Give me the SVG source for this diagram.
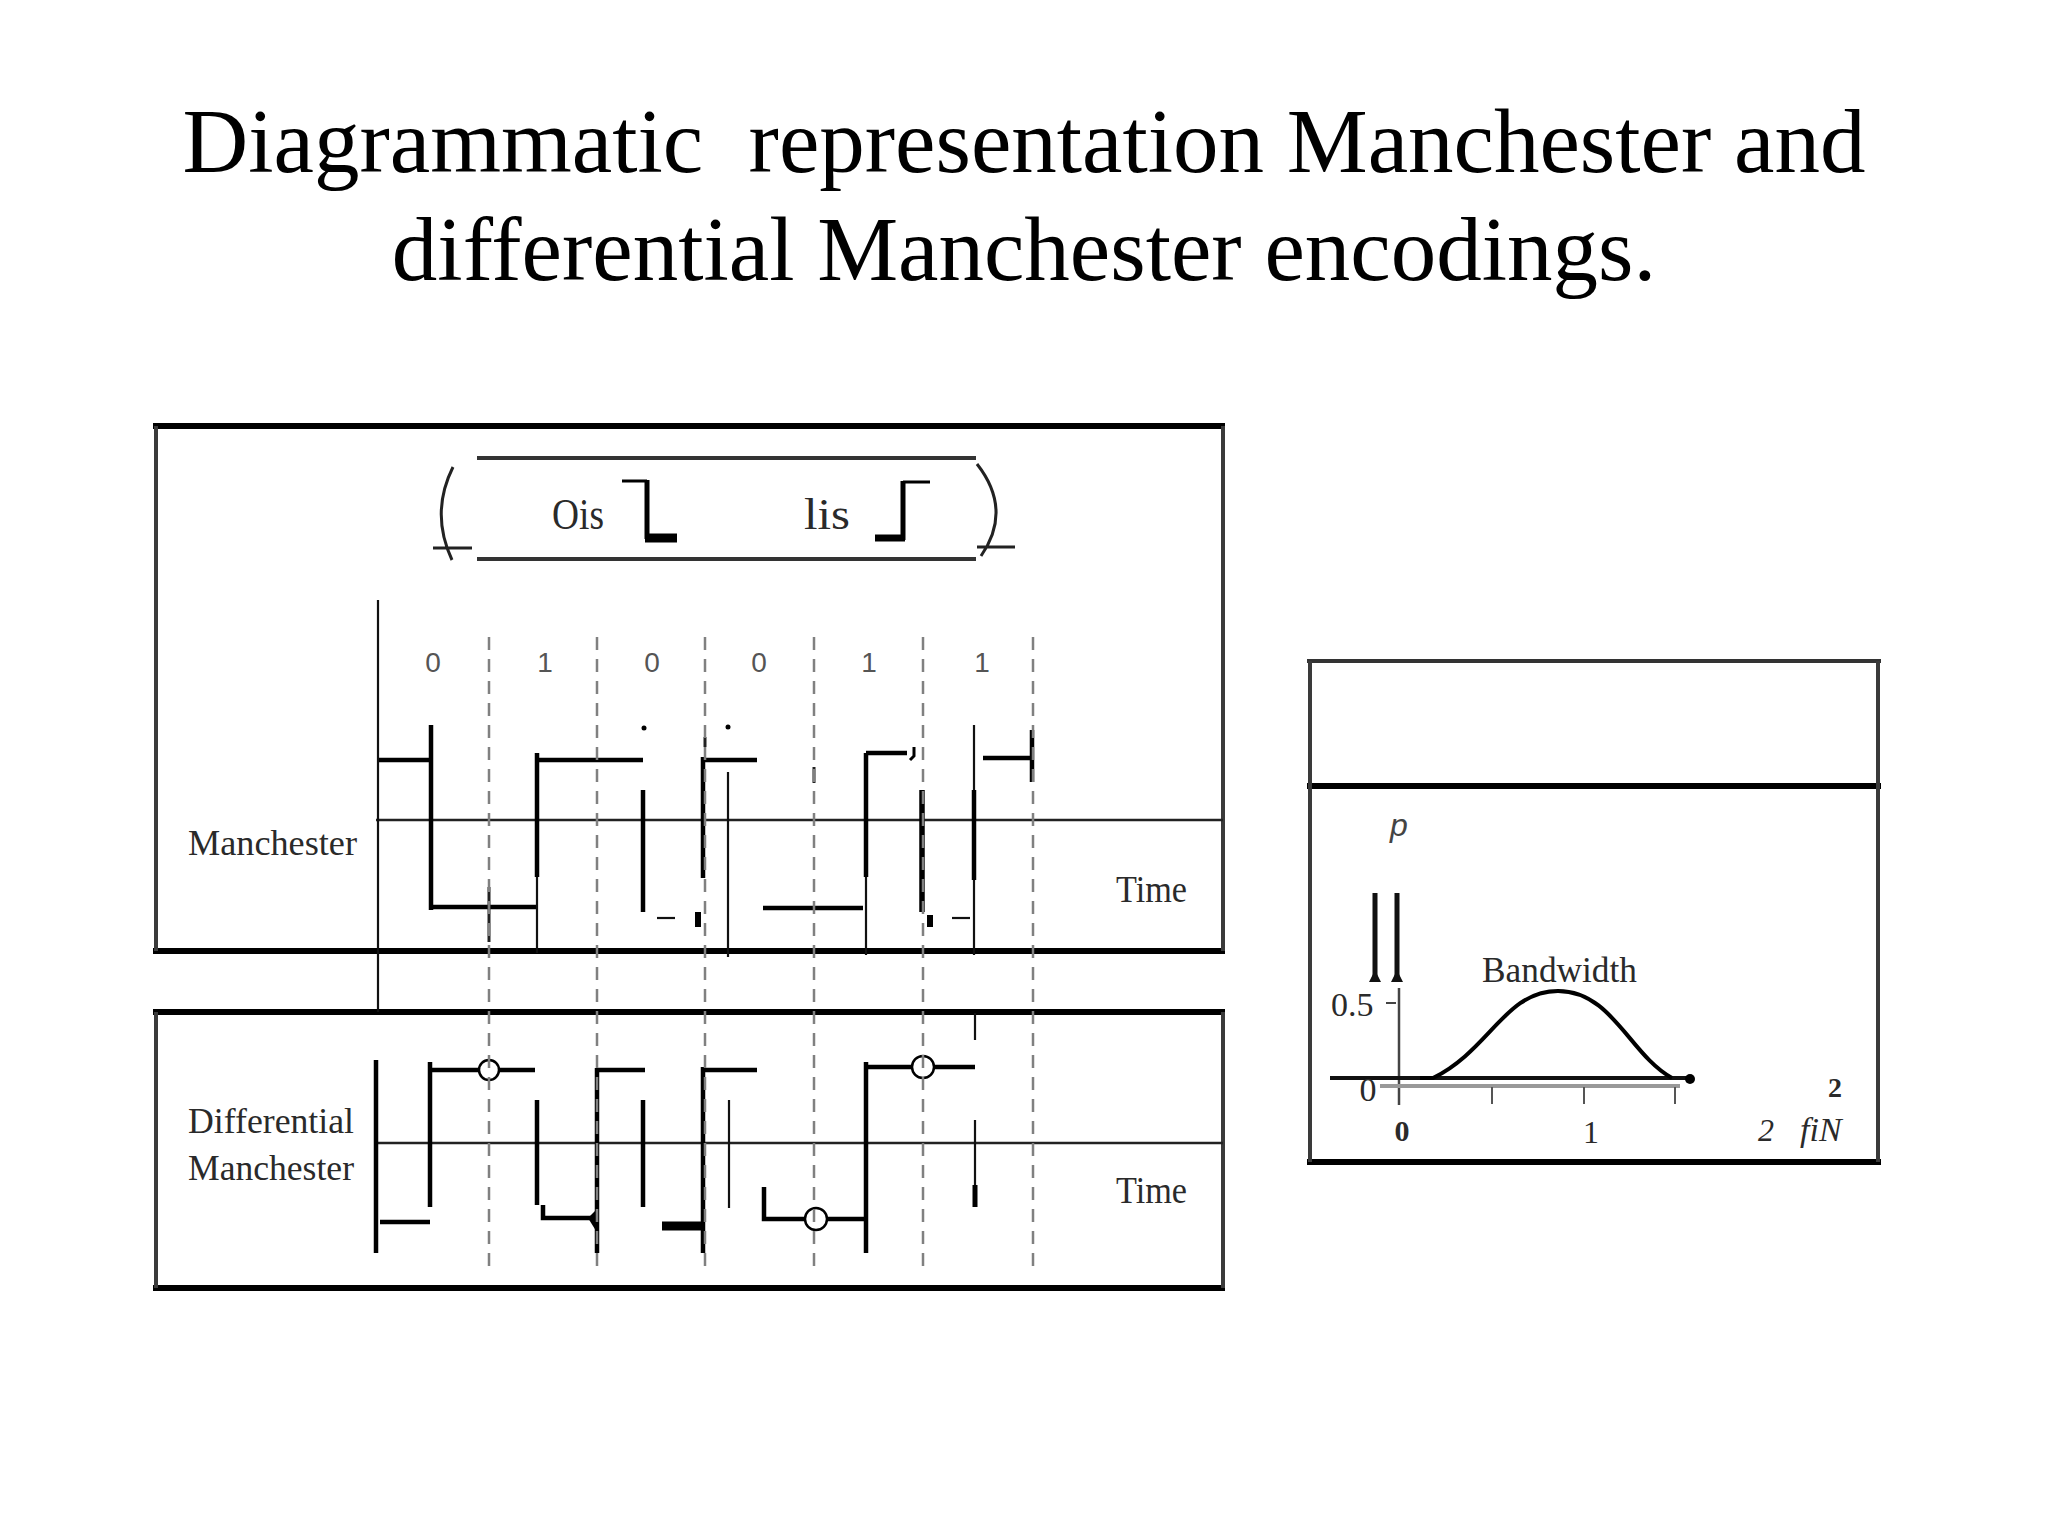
<svg xmlns="http://www.w3.org/2000/svg" width="2048" height="1536" viewBox="0 0 2048 1536">
<style>
.bg{fill:#fff}
.title{font-family:"Liberation Serif","Times New Roman",serif;font-size:91px;fill:#000;text-anchor:middle;white-space:pre}
.frame{stroke:#000;stroke-width:6;fill:none}
.side{stroke:#3a3a3a;stroke-width:4;fill:none}
.mid{stroke:#222;stroke-width:2.5;fill:none}
.wave{stroke:#000;stroke-width:4.5;fill:none}
.thin{stroke:#111;stroke-width:2.2;fill:none}
.dash{stroke:#808080;stroke-width:2.5;stroke-dasharray:13 9;fill:none}
.lbl{font-family:"Liberation Serif","Times New Roman",serif;fill:#2a2a2a}
.bit{font-family:"Liberation Sans",Arial,sans-serif;font-size:28px;fill:#555;text-anchor:middle}
.circ{fill:#fff;stroke:#000;stroke-width:2.5}
</style>
<rect class="bg" x="0" y="0" width="2048" height="1536"/>

<g id="title">
<text class="title" x="1024" y="172">Diagrammatic  representation Manchester and</text>
<text class="title" x="1024" y="280">differential Manchester encodings.</text>
</g>

<g id="manchester-panel">
<path class="frame" d="M153,426 H1225 M153,951 H1225"/>
<path class="side" d="M156,426 V951 M1223,426 V951"/>
<path class="mid" d="M376,820 H1223"/>
<text class="lbl" x="188" y="855" font-size="36" textLength="169" lengthAdjust="spacingAndGlyphs">Manchester</text>
<text class="lbl" x="1116" y="902" font-size="38" textLength="71" lengthAdjust="spacingAndGlyphs">Time</text>
<g id="bit-labels">
<text class="bit" x="433" y="672">0</text>
<text class="bit" x="545" y="672">1</text>
<text class="bit" x="652" y="672">0</text>
<text class="bit" x="759" y="672">0</text>
<text class="bit" x="869" y="672">1</text>
<text class="bit" x="982" y="672">1</text>
</g>
<g id="manchester-wave">
<path class="wave" d="M377,760 H431 M431,725 V910 M431,907 H537"/>
<path class="wave" d="M537,753 V877 M537,760 H643"/>
<path class="thin" d="M537,877 V953"/>
<circle cx="644" cy="728" r="2.5" fill="#000"/>
<path class="wave" d="M643,790 V912"/>
<path class="thin" d="M657,918 H675"/>
<path d="M698,912 V927" stroke="#000" stroke-width="6"/>
<path class="wave" d="M703,757 V878 M703,760 H757"/>
<circle cx="728" cy="727" r="2.5" fill="#000"/>
<path class="thin" d="M728,772 V957"/>
<path class="wave" d="M763,908 H863"/>
<path class="wave" d="M866,753 V877 M866,753 H907"/>
<path class="thin" d="M866,877 V955"/>
<path d="M914,747 V756 L910,760" stroke="#000" stroke-width="3" fill="none"/>
<path d="M922,790 V912" stroke="#000" stroke-width="5.5"/>
<path d="M930,915 V927" stroke="#000" stroke-width="6"/>
<path class="thin" d="M952,918 H970"/>
<path class="thin" d="M974,725 V955"/>
<path class="wave" d="M974,790 V880"/>
<path class="wave" d="M983,758 H1032 M1032,730 V782"/>
<path d="M705,737 V747 M814,767 V783" stroke="#222" stroke-width="3"/>
<path d="M489,887 V942" stroke="#222" stroke-width="3"/>
</g>
</g>

<g id="diff-panel">
<path class="frame" d="M153,1012 H1225 M153,1288 H1225"/>
<path class="side" d="M156,1012 V1288 M1223,1012 V1288"/>
<path class="mid" d="M378,1143 H1223"/>
<text class="lbl" x="188" y="1133" font-size="36" textLength="166" lengthAdjust="spacingAndGlyphs">Differential</text>
<text class="lbl" x="188" y="1180" font-size="36" textLength="166" lengthAdjust="spacingAndGlyphs">Manchester</text>
<text class="lbl" x="1116" y="1203" font-size="38" textLength="71" lengthAdjust="spacingAndGlyphs">Time</text>
<g id="diff-wave">
<path class="wave" d="M376,1060 V1253 M380,1222 H430 M430,1062 V1207 M430,1070 H535"/>
<path class="wave" d="M537,1100 V1205 M543,1205 V1218 H593"/>
<path d="M588,1218 L598,1208 L598,1234 Z" fill="#000"/>
<path class="wave" d="M597,1068 V1253 M597,1070 H645 M643,1100 V1207"/>
<path d="M662,1226 H702" stroke="#000" stroke-width="9"/>
<path class="wave" d="M703,1067 V1253 M703,1070 H757"/>
<path class="thin" d="M729,1100 V1208"/>
<path class="wave" d="M764,1187 V1219 H865 M866,1062 V1253 M866,1067 H975"/>
<path class="thin" d="M975,1013 V1040 M975,1120 V1190"/>
<path d="M975,1185 V1207" stroke="#000" stroke-width="5"/>
<circle class="circ" cx="489" cy="1070" r="10"/>
<circle class="circ" cx="816" cy="1219" r="11"/>
<circle class="circ" cx="923" cy="1067" r="11"/>
</g>
</g>

<g id="connectors">
<path class="thin" d="M378,600 V1012"/>
<path class="dash" d="M489,637 V1273 M597,637 V1273 M705,637 V1273 M814,637 V1273 M923,637 V1273 M1033,637 V1273"/>
</g>

<g id="legend">
<path d="M477,458 H976 M477,559 H976" stroke="#333" stroke-width="4" fill="none"/>
<path d="M453,467 Q430,513 452,560 M433,548 H472" stroke="#222" stroke-width="3" fill="none"/>
<path d="M977,464 Q1013,510 981,556 M977,547 H1015" stroke="#222" stroke-width="3" fill="none"/>
<text class="lbl" x="552" y="529" font-size="44" textLength="52" lengthAdjust="spacingAndGlyphs">Ois</text>
<path d="M622,481 H647" stroke="#000" stroke-width="3"/>
<path d="M647,480 V539" stroke="#000" stroke-width="5"/>
<path d="M645,538 H677" stroke="#000" stroke-width="9"/>
<text class="lbl" x="804" y="529" font-size="44" textLength="46" lengthAdjust="spacingAndGlyphs">lis</text>
<path d="M875,538 H905" stroke="#000" stroke-width="7"/>
<path d="M903,540 V481" stroke="#000" stroke-width="5"/>
<path d="M903,482 H930" stroke="#000" stroke-width="3"/>
</g>

<g id="spectrum-panel">
<path d="M1307,661 H1881" stroke="#333" stroke-width="4"/>
<path class="frame" d="M1307,786 H1881 M1307,1162 H1881"/>
<path class="side" d="M1310,661 V1162 M1878,661 V1162"/>
<text x="1390" y="836" font-family="'Liberation Sans',Arial,sans-serif" font-style="italic" font-size="32" fill="#444">p</text>
<path d="M1375,893 V976 M1397,893 V976" stroke="#111" stroke-width="5"/>
<path d="M1369,982 H1381 L1375,970 Z M1391,982 H1403 L1397,970 Z" fill="#111"/>
<text class="lbl" x="1331" y="1016" font-size="34">0.5</text>
<path d="M1386,1003 H1396" stroke="#444" stroke-width="2"/>
<path d="M1399,988 V1105" stroke="#444" stroke-width="2.5"/>
<path d="M1380,1086 H1680" stroke="#999" stroke-width="4"/>
<path d="M1330,1078 H1693" stroke="#111" stroke-width="4"/>
<circle cx="1690" cy="1079" r="5" fill="#000"/>
<path d="M1492,1087 V1104 M1584,1087 V1104 M1675,1087 V1104" stroke="#555" stroke-width="2"/>
<path d="M1420,1078 H1433 C1490,1050 1505,991 1558,991 C1612,991 1630,1055 1672,1078" stroke="#000" stroke-width="4" fill="none"/>
<text class="lbl" x="1368" y="1101" font-size="34" text-anchor="middle" fill="#666">0</text>
<text class="lbl" x="1402" y="1141" font-size="30" font-weight="bold" text-anchor="middle">0</text>
<text class="lbl" x="1591" y="1143" font-size="32" text-anchor="middle">1</text>
<text class="lbl" x="1482" y="982" font-size="35" textLength="155" lengthAdjust="spacingAndGlyphs">Bandwidth</text>
<text class="lbl" x="1828" y="1097" font-size="28" font-weight="bold">2</text>
<text class="lbl" x="1758" y="1141" font-size="32" font-style="italic">2</text>
<text class="lbl" x="1800" y="1141" font-size="34" font-style="italic">fiN</text>
</g>
</svg>
